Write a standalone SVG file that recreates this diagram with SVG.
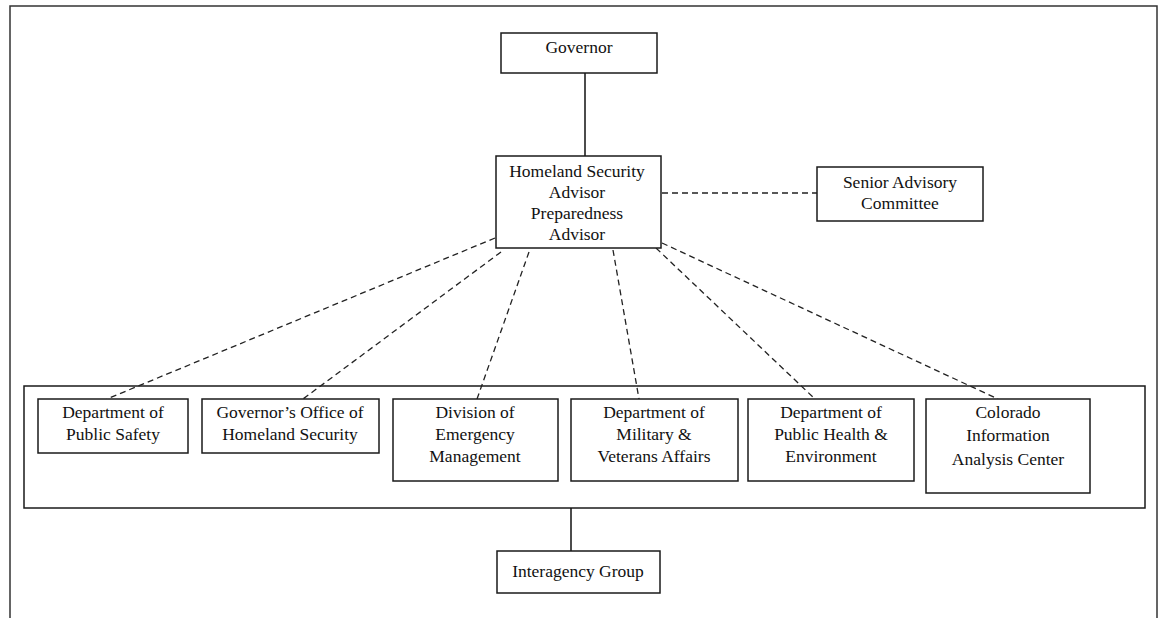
<svg xmlns="http://www.w3.org/2000/svg" width="1161" height="618" viewBox="0 0 1161 618">
<style>
.box{fill:#fff;stroke:#1a1a1a;stroke-width:1.5}
.group{fill:none;stroke:#1a1a1a;stroke-width:1.5}
.frame{fill:none;stroke:#333;stroke-width:1.5}
.t{font-family:"Liberation Serif","Times New Roman",serif;font-size:17.5px;fill:#111;text-anchor:middle}
.solid{stroke:#111;stroke-width:1.5;fill:none}
.dash{stroke:#222;stroke-width:1.3;fill:none;stroke-dasharray:6 4}
</style>
<rect width="1161" height="618" fill="#fff"/>
<path class="frame" d="M10,618 V6 H1157 V618"/>
<g id="agencies">
<rect class="group" x="24" y="386" width="1121" height="122"/>
</g>
<g id="connectors">
<line class="solid" x1="585" y1="73" x2="585" y2="156"/>
<line class="solid" x1="571" y1="508" x2="571" y2="551"/>
<line class="dash" x1="662" y1="193" x2="817" y2="193"/>
<line class="dash" x1="495" y1="238" x2="107" y2="399"/>
<line class="dash" x1="501" y1="252" x2="303" y2="399"/>
<line class="dash" x1="529" y1="252" x2="477" y2="399"/>
<line class="dash" x1="613" y1="250" x2="639" y2="399"/>
<line class="dash" x1="656" y1="248" x2="815" y2="399"/>
<line class="dash" x1="662" y1="243" x2="998" y2="399"/>
</g>
<g id="governor">
<rect class="box" x="501" y="33" width="156" height="40"/>
<text class="t" x="579" y="53">Governor</text>
</g>
<g id="hsa">
<rect class="box" x="496" y="156" width="165" height="92"/>
<text class="t" x="577" y="177">Homeland Security</text>
<text class="t" x="577" y="198">Advisor</text>
<text class="t" x="577" y="219">Preparedness</text>
<text class="t" x="577" y="240">Advisor</text>
</g>
<g id="senior">
<rect class="box" x="817" y="167" width="166" height="54"/>
<text class="t" x="900" y="188">Senior Advisory</text>
<text class="t" x="900" y="209">Committee</text>
</g>
<g id="dps">
<rect class="box" x="38" y="399" width="150" height="54"/>
<text class="t" x="113" y="418">Department of</text>
<text class="t" x="113" y="440">Public Safety</text>
</g>
<g id="gohs">
<rect class="box" x="202" y="399" width="177" height="54"/>
<text class="t" x="290" y="418">Governor’s Office of</text>
<text class="t" x="290" y="440">Homeland Security</text>
</g>
<g id="dem">
<rect class="box" x="393" y="399" width="165" height="82"/>
<text class="t" x="475" y="418">Division of</text>
<text class="t" x="475" y="440">Emergency</text>
<text class="t" x="475" y="462">Management</text>
</g>
<g id="dmva">
<rect class="box" x="571" y="399" width="167" height="82"/>
<text class="t" x="654" y="418">Department of</text>
<text class="t" x="654" y="440">Military &amp;</text>
<text class="t" x="654" y="462">Veterans Affairs</text>
</g>
<g id="dphe">
<rect class="box" x="748" y="399" width="166" height="82"/>
<text class="t" x="831" y="418">Department of</text>
<text class="t" x="831" y="440">Public Health &amp;</text>
<text class="t" x="831" y="462">Environment</text>
</g>
<g id="ciac">
<rect class="box" x="926" y="399" width="164" height="94"/>
<text class="t" x="1008" y="418">Colorado</text>
<text class="t" x="1008" y="441">Information</text>
<text class="t" x="1008" y="465">Analysis Center</text>
</g>
<g id="interagency">
<rect class="box" x="497" y="551" width="163" height="42"/>
<text class="t" x="578" y="577">Interagency Group</text>
</g>
</svg>
